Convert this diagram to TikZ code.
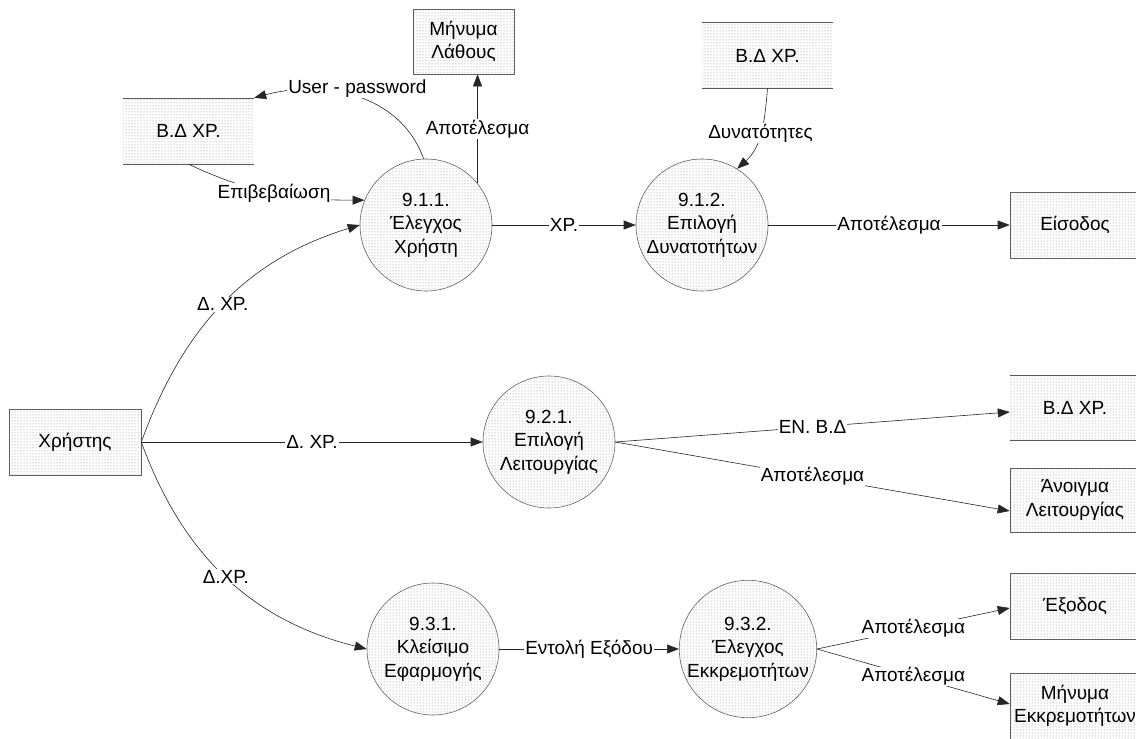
\documentclass[tikz,border=0pt]{standalone}
\usepackage{fontspec}
\setmainfont{Liberation Sans}
\usetikzlibrary{arrows.meta,patterns}
\newcommand{\fsz}{\fontsize{19pt}{23.5pt}\selectfont}
\begin{document}
\begin{tikzpicture}[x=1pt,y=1pt,
  ent/.style={draw=gray!75!black, line width=0.6pt, pattern=dots, pattern color=black!50,
    align=center, inner sep=0pt, font=\fsz, minimum height=66pt},
  proc/.style={circle, draw=gray!75!black, line width=0.6pt, pattern=dots, pattern color=black!50,
    minimum size=132pt, inner sep=0pt, align=center, font=\fsz},
  store/.style={pattern=dots, pattern color=black!50, minimum width=131pt, minimum height=66pt,
    inner sep=0pt, font=\fsz},
  storeline/.style={draw=gray!70!black, line width=0.6pt},
  flow/.style={draw=black!85, line width=0.6pt, -{Triangle[length=12pt,width=9pt]}},
  lbl/.style={fill=white, inner sep=1pt, font=\fsz}]
\useasboundingbox (0,0) rectangle (1136,-739);
% entities
\node[ent, minimum width=132pt] (X) at (75,-442) {Χρήστης};
\node[ent, minimum width=101pt, minimum height=65pt] (ML) at (463.5,-41.5) {Μήνυμα\\Λάθους};
\node[ent, minimum width=130pt] (EIS) at (1075,-225) {Είσοδος};
\node[ent, minimum width=130pt, minimum height=64pt] (AL) at (1075,-500) {Άνοιγμα\\Λειτουργίας};
\node[ent, minimum width=130pt] (EX) at (1075,-606.5) {Έξοδος};
\node[ent, minimum width=130pt] (ME) at (1075,-706) {Μήνυμα\\Εκκρεμοτήτων};
% data stores
\node[store] (S1) at (188.5,-131) {Β.Δ ΧΡ.};
\draw[storeline] (S1.north west) -- (S1.north east) (S1.south west) -- (S1.south east);
\node[store] (S2) at (767.5,-55.5) {Β.Δ ΧΡ.};
\draw[storeline] (S2.north west) -- (S2.north east) (S2.south west) -- (S2.south east);
\node[store, minimum width=130pt, minimum height=65pt] (S3) at (1075,-407.5) {Β.Δ ΧΡ.};
\draw[storeline] (S3.north west) -- (S3.north east) (S3.south west) -- (S3.south east);
% processes
\node[proc] (P911) at (426,-225) {9.1.1.\\Έλεγχος\\Χρήστη};
\node[proc] (P912) at (702,-225) {9.1.2.\\Επιλογή\\Δυνατοτήτων};
\node[proc] (P921) at (549,-442) {9.2.1.\\Επιλογή\\Λειτουργίας};
\node[proc] (P931) at (433,-649) {9.3.1.\\Κλείσιμο\\Εφαρμογής};
\node[proc] (P932) at (748,-649) {9.3.2.\\Έλεγχος\\Εκκρεμοτήτων};
% flows
\draw[flow] (X.east) to[out=70,in=197] node[lbl,pos=0.5]{Δ. ΧΡ.} (P911.west);
\draw[flow] (X.east) -- node[lbl]{Δ. ΧΡ.} (P921.west);
\draw[flow] (X.east) to[out=-70,in=166] node[lbl,pos=0.5]{Δ.ΧΡ.} (P931.west);
\draw[flow] (S1.south) to[out=-25,in=180] node[lbl]{Επιβεβαίωση} (P911.158);
\draw[flow] (P911.92) to[out=110,in=15] node[lbl,pos=0.5,xshift=2pt,yshift=8pt]{User - password} (S1.north east);
\draw[flow] (P911.39) -- node[lbl]{Αποτέλεσμα} (P911.39 |- ML.south);
\draw[flow] (P911.east) -- node[lbl]{ΧΡ.} (P912.west);
\draw[flow] (S2.south) to[out=-95,in=42] node[lbl]{Δυνατότητες} (P912.58);
\draw[flow] (P912.east) -- node[lbl]{Αποτέλεσμα} (EIS.west);
\draw[flow] (P921.east) -- node[lbl]{ΕΝ. Β.Δ} ([yshift=-4.5pt]S3.west);
\draw[flow] (P921.east) -- node[lbl]{Αποτέλεσμα} ([yshift=-11pt]AL.west);
\draw[flow] (P931.east) -- node[lbl]{Εντολή Εξόδου} (P932.west);
\draw[flow] (P932.east) -- node[lbl]{Αποτέλεσμα} ([yshift=-1.5pt]EX.west);
\draw[flow] (P932.east) -- node[lbl]{Αποτέλεσμα} ([yshift=2pt]ME.west);
\end{tikzpicture}
\end{document}
